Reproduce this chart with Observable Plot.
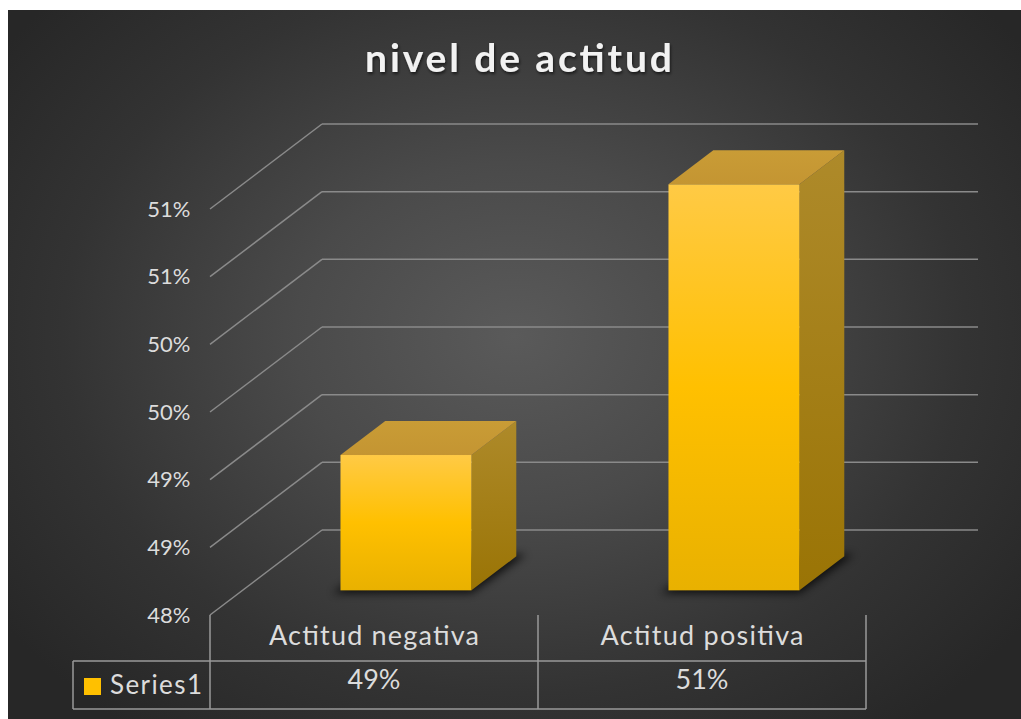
<!DOCTYPE html>
<html><head><meta charset="utf-8">
<script src="https://cdn.jsdelivr.net/npm/d3@7"></script>
<script src="https://cdn.jsdelivr.net/npm/@observablehq/plot@0.6"></script>
<style>
html,body{margin:0;padding:0;background:#fff;}
#wrap{position:relative;width:1021px;height:719px;overflow:hidden;}
#bg{position:absolute;left:8px;top:10px;width:1013px;height:709px;
  background:radial-gradient(ellipse 62% 70% at 50% 46%, #5a5a5a 0%, #4a4a4a 35%, #333 72%, #272727 100%);}
#chart{position:absolute;left:0;top:0;}
</style></head><body>
<div id="wrap"><div id="bg"></div><div id="chart"></div></div>
<script>
const title = "nivel de actitud";
const categories = ["Actitud negativa", "Actitud positiva"];
const values = [0.49, 0.51];
const seriesName = "Series1";
const yTicks = [0.48, 0.485, 0.49, 0.495, 0.50, 0.505, 0.51];
const yTickLabels = ["48%", "49%", "49%", "50%", "50%", "51%", "51%"];

const data = categories.map((c, i) => ({category: c, value: values[i]}));
const fmt = d3.format(".0%");

const DX = 112, DY = 85;     // projected depth of the floor
const D0 = 0.29, D1 = 0.69;  // depth span of the columns
const TXT = "#dcdcdc", GRID = "#8a8a8a", TLINE = "#9a9a9a";
const CAT_WIDTHS = [210, 203];

function scene(index, scales, vals, dims) {
  const x = scales.x, y = scales.y;
  const [xa, xb] = x.range();
  const step = x.step(), bw = x.bandwidth();
  const yb = y(yTicks[0]);
  const g = d3.create("svg:g");
  const defs = g.append("defs");
  const lg = (id, stops, horiz) => {
    const l = defs.append("linearGradient").attr("id", id)
      .attr("x1", 0).attr("y1", 0).attr("x2", horiz ? 1 : 0).attr("y2", horiz ? 0 : 1);
    stops.forEach(([o, c]) => l.append("stop").attr("offset", o).attr("stop-color", c));
  };
  lg("gFront", [[0, "#ffca45"], [0.5, "#ffc000"], [1, "#e9b100"]]);
  lg("gSide", [[0, "#ae8a2a"], [1, "#9a7405"]]);
  lg("gTop", [[0, "#c99c36"], [1, "#c49532"]]);
  defs.append("filter").attr("id", "blur").attr("x", "-50%").attr("y", "-50%")
    .attr("width", "200%").attr("height", "200%")
    .append("feGaussianBlur").attr("stdDeviation", 4);
  defs.append("filter").attr("id", "tshadow").attr("x", "-10%").attr("y", "-30%")
    .attr("width", "120%").attr("height", "160%")
    .append("feDropShadow").attr("dx", 1).attr("dy", 2).attr("stdDeviation", 1.5)
    .attr("flood-color", "#000").attr("flood-opacity", 0.6);

  // back wall gridlines
  g.append("g").attr("stroke", GRID).attr("stroke-width", 1.5)
    .selectAll("line").data(yTicks).join("line")
    .attr("x1", xa + DX).attr("x2", xb + DX)
    .attr("y1", d => y(d) - DY).attr("y2", d => y(d) - DY);
  // side wall diagonals
  g.append("g").attr("stroke", GRID).attr("stroke-width", 1.5)
    .selectAll("line").data(yTicks).join("line")
    .attr("x1", xa).attr("y1", d => y(d))
    .attr("x2", xa + DX).attr("y2", d => y(d) - DY);

  // columns
  const bars = g.append("g");
  data.forEach(d => {
    const xl = x(d.category), xr = xl + bw, yt = y(d.value);
    const dx0 = D0 * DX, dy0 = D0 * DY, dx1 = D1 * DX, dy1 = D1 * DY;
    const pts = a => a.map(p => p.join(",")).join(" ");
    bars.append("polygon")
      .attr("points", pts([[xl + dx0 - 8, yb - dy0 + 3], [xr + dx0, yb - dy0 + 3],
                           [xr + dx1 + 10, yb - dy1 - 2], [xl + dx1, yb - dy1]]))
      .attr("fill", "#000").attr("opacity", 0.75).attr("filter", "url(#blur)");
    bars.append("polygon")
      .attr("points", pts([[xr + dx0, yt - dy0], [xr + dx1, yt - dy1], [xr + dx1, yb - dy1], [xr + dx0, yb - dy0]]))
      .attr("fill", "url(#gSide)");
    bars.append("polygon")
      .attr("points", pts([[xl + dx0, yt - dy0], [xr + dx0, yt - dy0], [xr + dx1, yt - dy1], [xl + dx1, yt - dy1]]))
      .attr("fill", "url(#gTop)");
    bars.append("rect")
      .attr("x", xl + dx0).attr("y", yt - dy0).attr("width", bw).attr("height", yb - yt)
      .attr("fill", "url(#gFront)");
  });

  // data table lines
  const t1 = yb + 46, t2 = yb + 94, lx = xa - 137;
  const tl = g.append("g").attr("stroke", TLINE).attr("stroke-width", 1.5);
  [t1, t2].forEach(v => tl.append("line").attr("x1", lx).attr("x2", xb).attr("y1", v).attr("y2", v));
  [xa, xa + step, xb].forEach(v => tl.append("line").attr("x1", v).attr("x2", v).attr("y1", yb).attr("y2", t2));
  tl.append("line").attr("x1", lx).attr("x2", lx).attr("y1", t1).attr("y2", t2);

  // legend key
  g.append("rect").attr("x", xa - 126).attr("y", yb + 63).attr("width", 17).attr("height", 17).attr("fill", "#ffc000");
  g.append("text").attr("x", xa - 100).attr("y", yb + 79).attr("fill", TXT)
    .attr("text-anchor", "start")
    .attr("font-family", "Lato").attr("font-size", 26)
    .attr("textLength", 92).attr("lengthAdjust", "spacing").text(seriesName);

  // title
  g.append("text").attr("x", 518.5).attr("y", 72).attr("text-anchor", "middle")
    .attr("fill", "#f2f2f2").attr("font-family", "Lato").attr("font-weight", "bold")
    .attr("font-size", 39).attr("textLength", 307).attr("lengthAdjust", "spacing")
    .attr("filter", "url(#tshadow)").text(title);
  return g.node();
}

const chart = Plot.plot({
  width: 1021,
  height: 719,
  marginLeft: 210,
  marginRight: 155,
  marginTop: 209,
  marginBottom: 104,
  style: {background: "transparent", fontFamily: "Lato"},
  x: {type: "band", domain: categories, paddingInner: 0.6, paddingOuter: 0.3, align: 0.5, axis: null},
  y: {domain: [0.48, 0.51], axis: null},
  marks: [
    scene,
    Plot.text(yTicks, {y: d => d, text: (d, i) => yTickLabels[i], frameAnchor: "left",
      textAnchor: "end", dx: -20, fontSize: 22, fill: TXT}),
    Plot.text(data, {x: "category", text: "category", frameAnchor: "bottom", dy: 29,
      fontSize: 27, fill: TXT}),
    Plot.text(data, {x: "category", text: d => fmt(d.value), frameAnchor: "bottom", dy: 73,
      fontSize: 27, fill: TXT})
  ]
});
d3.select(chart).selectAll("text")
  .filter(function () { return categories.includes(this.textContent); })
  .each(function () {
    const i = categories.indexOf(this.textContent);
    d3.select(this).attr("textLength", CAT_WIDTHS[i]).attr("lengthAdjust", "spacing");
  });
document.getElementById("chart").appendChild(chart);
</script>
</body></html>
